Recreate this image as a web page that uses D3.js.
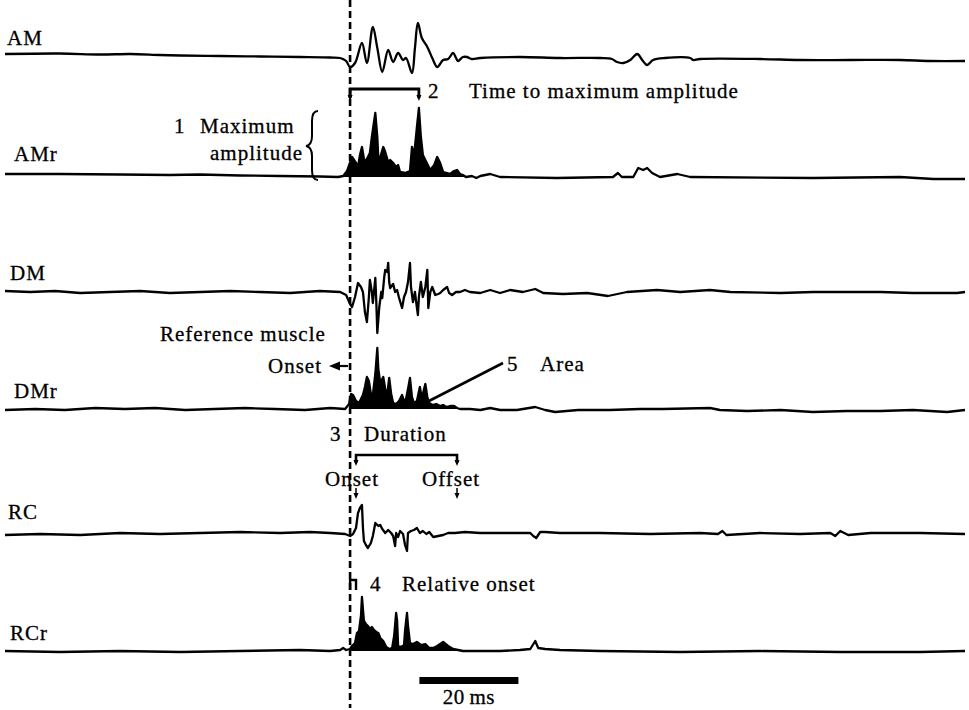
<!DOCTYPE html>
<html>
<head>
<meta charset="utf-8">
<script src="https://cdn.jsdelivr.net/npm/d3@7"></script>
<style>
  body { margin: 0; background: #fff; }
  svg { display: block; }
  text { font-family: "Liberation Serif", "Times New Roman", serif; font-size: 21px; letter-spacing: 1px; fill: #000; stroke: #000; stroke-width: 0.3px; }
</style>
</head>
<body>
<div id="chart"></div>
<script>
// Traces, [time in ms from reference onset, amplitude]
const traceNames = ['AM', 'AMr', 'DM', 'DMr', 'RC', 'RCr'];

const amSamples = [
  [-69.7, 4], [-58.6, 4.5], [-50.5, 3.5], [-44.4, 4], [-38.4, 3], [-34.3, 2.5], [-26.3, 2], [-18.2, 1.5],
  [-10.1, 1], [-4.0, 0.5], [-2.0, 0], [-0.8, -3], [0, -9], [1.0, -5], [2.4, 15], [3.4, -5], [4.6, 31],
  [5.5, 10], [6.5, -14], [7.7, 8], [8.7, -4], [9.7, 5], [10.7, -2], [11.3, 0], [12.5, -15], [13.1, 10],
  [13.7, 35], [14.5, 20], [15.6, 11], [16.6, 0], [17.6, -9], [18.8, -2], [19.8, -1], [20.8, 5], [21.4, 0],
  [21.8, -3], [22.8, 1], [23.6, 1], [24.6, -1], [26.3, 0], [34.3, 1], [42.4, 0], [50.5, 0], [52.9, -1],
  [53.9, -4], [55.2, -5], [56.6, -2], [58.0, 4], [59.0, -2], [60.0, -7], [61.2, -2], [63.6, 0], [68.7, 0],
  [69.3, -2], [70.7, -1], [82.8, -1], [90.9, -2], [101.0, -2], [111.1, -2], [117.2, -3], [124.2, -3]
];

const amrSamples = [
  [-69.7, 3], [-58.6, 3], [-46.5, 2.5], [-36.4, 2], [-30.3, 2.5], [-22.2, 1.5], [-14.1, 1], [-6.1, 0.5],
  [-2.4, 0], [-1.4, 1], [-0.6, 6], [0.4, 20], [1.2, 14], [1.6, 10], [2.0, 22], [2.4, 30], [2.8, 18],
  [3.0, 15], [3.6, 20], [4.0, 24], [4.4, 40], [5.1, 64], [5.5, 40], [5.7, 19], [6.1, 20], [6.7, 30],
  [7.1, 25], [7.7, 15], [8.1, 17], [8.7, 14], [9.3, 10], [9.7, 12], [10.1, 5], [11.1, 4], [12.1, 6],
  [12.5, 30], [12.9, 22], [13.1, 30], [13.5, 50], [13.9, 69], [14.3, 40], [14.7, 22], [15.4, 15],
  [16.2, 7], [17.0, 12], [17.6, 20], [18.2, 14], [18.8, 5], [19.6, 4], [20.2, 3], [21.0, 6], [21.6, 7],
  [22.2, 3], [22.8, 2], [23.4, 0], [24.6, 1], [25.5, -1], [26.3, 1], [28.3, 3], [30.3, 0], [41.8, -1],
  [53.1, 0], [54.1, 4], [54.9, 0], [57.2, 0], [58.2, 9], [59.2, 7], [60.0, 9], [61.0, 4], [62.6, 0],
  [66.1, 3], [68.7, 0], [93.5, -1], [111.1, 0], [117.8, -2], [124.2, -2]
];

const dmSamples = [
  [-69.7, 1], [-64.6, 0], [-59.6, 1], [-54.5, -1], [-48.5, 0], [-42.4, 1], [-36.4, -1], [-30.3, 0],
  [-24.2, 1], [-18.2, 0], [-12.1, -1], [-6.1, 1], [-2.0, 0], [-0.8, -3], [0, -12], [0.4, -15], [1.0, -5],
  [1.6, 9], [2.2, 5], [2.6, 0], [3.0, -20], [3.4, -30], [3.8, -5], [4.0, 12], [4.4, 0], [4.6, -11],
  [5.1, 14], [5.3, -10], [5.5, -41], [5.9, -15], [6.3, 0], [6.5, -6], [6.9, 15], [7.1, 22], [7.5, 20],
  [7.7, 29], [7.9, 10], [8.1, 4], [8.7, 8], [9.1, 0], [9.5, 2], [9.9, -6], [10.5, -16], [10.9, -5],
  [11.3, 0], [11.7, 10], [12.1, 29], [12.3, 5], [12.7, -10], [13.1, 0], [13.3, -8], [13.7, -23],
  [13.9, -5], [14.3, 10], [14.7, -5], [15.2, 5], [15.6, 22], [15.8, -16], [16.2, 0], [16.6, 5],
  [17.2, -3], [17.8, -2], [18.2, -1], [18.8, 2], [19.6, 5], [20.0, -1], [20.6, -3], [21.4, 0], [22.2, 0],
  [23.2, 2], [24.2, 0], [26.3, -1], [28.3, 2], [30.3, -1], [32.3, 2], [34.9, 0], [37.4, 3], [39.0, -1],
  [43.0, -2], [47.9, -1], [52.1, -4], [55.9, 0], [62.0, 2], [66.7, 0], [72.7, 2], [76.8, 0], [86.9, -1],
  [93.5, 0], [100.4, 0], [107.1, 0], [113.7, -1], [122.6, -1], [124.2, 0]
];

const dmrSamples = [
  [-69.7, -1], [-63.6, 0], [-57.6, -1], [-51.5, 1], [-45.5, 0], [-39.4, 1], [-33.3, -1], [-27.3, 0],
  [-21.2, 1], [-15.2, 0], [-9.1, -1], [-4.0, 1], [-1.0, 0], [-0.2, 5], [0.2, 15], [0.6, 14], [1.2, 8],
  [1.8, 6], [2.2, 10], [2.6, 14], [3.0, 22], [3.4, 32], [3.8, 28], [4.2, 15], [4.6, 14], [5.1, 35],
  [5.5, 61], [5.7, 40], [6.1, 26], [6.5, 30], [6.7, 32], [7.1, 20], [7.5, 14], [7.9, 31], [8.3, 15],
  [8.7, 6], [9.3, 5], [9.9, 8], [10.5, 14], [10.9, 8], [11.3, 10], [11.7, 20], [12.1, 31], [12.5, 12],
  [12.9, 6], [13.5, 8], [14.1, 22], [14.5, 10], [14.7, 15], [15.2, 25], [15.6, 12], [16.0, 6],
  [16.6, 4], [17.4, 5], [18.2, 3], [18.8, 4], [19.4, 2], [20.2, 3], [21.0, 3], [21.6, 1], [22.2, 0],
  [24.2, 0], [26.3, -1], [28.3, 1], [30.3, -1], [33.7, -1], [37.4, 2], [39.4, -1], [41.4, -3], [46.1, -1],
  [52.5, -1], [58.6, 0], [63.2, 0], [72.7, 1], [74.7, -1], [80.2, -2], [86.9, -1], [93.5, -3],
  [100.4, -2], [107.1, -2], [113.7, -1], [120.6, -3], [124.2, -1]
];

const rcSamples = [
  [-69.7, -2], [-62.6, -1], [-54.5, -2], [-46.5, 0], [-38.4, -1], [-30.3, 0], [-22.2, 1], [-14.1, 0],
  [-8.1, 1], [-4.0, 0], [-1.0, -1], [0, -3], [0.6, -1], [1.2, 5], [1.6, 20], [2.0, 25], [2.4, 28],
  [2.6, 5], [2.8, -8], [3.2, -12], [3.6, -15], [4.2, -10], [4.6, -3], [5.1, 10], [5.7, 7], [6.1, 8],
  [6.5, 4], [7.1, 0], [7.7, 3], [8.3, 0], [8.7, -3], [9.1, -13], [9.3, 0], [9.7, -4], [10.1, 2],
  [10.7, -1], [11.1, -12], [11.5, -18], [11.7, 0], [12.3, 2], [12.9, 3], [13.5, 5], [14.1, 0], [14.7, 2],
  [15.4, -1], [16.0, 1], [16.8, -4], [17.8, -3], [18.8, -2], [19.8, 0], [21.2, 0], [23.2, 1], [26.3, 0],
  [30.3, 0], [36.4, 0], [37.0, -3], [37.6, -5], [38.4, 1], [39.4, 1], [42.4, 0], [50.5, 0], [60.6, -1],
  [70.7, 0], [74.3, -1], [75.2, 2], [76.0, -2], [82.8, 0], [90.9, -1], [97.0, 0], [98.0, -3], [99.0, 2],
  [100.6, -2], [105.1, 0], [115.2, 0], [124.2, -1]
];

const rcrSamples = [
  [-69.7, 0], [-58.6, -1], [-46.5, 0], [-34.3, -1], [-22.2, 0], [-10.1, 1], [-4.0, 0], [-2.0, 1],
  [-1.4, 3], [-0.8, 1], [0, 2], [0.4, 5], [1.0, 8], [1.4, 18], [1.8, 20], [2.2, 35], [2.4, 54], [2.8, 30],
  [3.2, 27], [3.6, 25], [4.0, 22], [4.4, 24], [4.8, 21], [5.3, 19], [5.7, 18], [6.1, 13], [6.7, 10],
  [7.3, 4], [7.9, 2], [8.5, 3], [8.9, 15], [9.3, 38], [9.5, 30], [9.7, 5], [10.3, 4], [10.9, 6],
  [11.1, 20], [11.5, 38], [11.7, 25], [12.1, 8], [12.7, 7], [13.5, 9], [14.3, 6], [15.2, 7], [16.0, 3],
  [16.8, 3], [17.6, 5], [18.8, 9], [19.8, 5], [20.8, 2], [21.8, 1], [22.8, 0], [26.3, 0], [30.3, 0],
  [34.3, 1], [36.4, 2], [37.4, 10], [38.0, 3], [39.4, 2], [42.4, 1], [50.5, 0], [66.7, -1], [82.8, 0],
  [99.0, -1], [115.2, -1], [124.2, 0]
];

// Filled (rectified) bursts, ms
const amrBurst = [-1.4, 23.4];
const dmrBurst = [-0.2, 22.2];
const rcrBurst = [0, 22.8];

// Measured events, ms
const rcOnset = 1.2;
const rcOffset = 21.6;
const scaleBarMs = [14, 34];

const width = 969, height = 710;

const svg = d3.select('#chart').append('svg')
  .attr('width', width)
  .attr('height', height);

svg.append('rect').attr('width', width).attr('height', height).attr('fill', '#fff');

const x = d3.scaleLinear().domain([-70, 124.2]).range([3.5, 965]);
const amp = d3.scaleLinear().domain([0, 10]).range([0, -10]);

// baseline row of each trace
const rowY = { AM: 58, AMr: 177, DM: 292, DMr: 409, RC: 533, RCr: 651 };

const traces = [
  { name: 'AM', data: amSamples, burst: null, smooth: true, label: [7, 45] },
  { name: 'AMr', data: amrSamples, burst: amrBurst, label: [14, 161] },
  { name: 'DM', data: dmSamples, burst: null, label: [10, 280] },
  { name: 'DMr', data: dmrSamples, burst: dmrBurst, label: [14, 398] },
  { name: 'RC', data: rcSamples, burst: null, label: [8, 519] },
  { name: 'RCr', data: rcrSamples, burst: rcrBurst, label: [10, 640] }
];

const g = svg.append('g');

traces.forEach(tr => {
  const base = rowY[tr.name];

  if (tr.burst) {
    const area = d3.area()
      .defined(d => d[0] >= tr.burst[0] && d[0] <= tr.burst[1])
      .x(d => x(d[0]))
      .y0(base)
      .y1(d => base + amp(Math.max(0, d[1])));
    g.append('path')
      .datum(tr.data)
      .attr('d', area)
      .attr('fill', '#000');
  }

  const line = d3.line()
    .curve(tr.smooth ? d3.curveCatmullRom.alpha(0.5) : d3.curveLinear)
    .x(d => x(d[0]))
    .y(d => base + amp(d[1]));
  g.append('path')
    .datum(tr.data)
    .attr('d', line)
    .attr('fill', 'none')
    .attr('stroke', '#000')
    .attr('stroke-width', 2.3)
    .attr('stroke-linejoin', 'round');

  g.append('text')
    .attr('x', tr.label[0])
    .attr('y', tr.label[1])
    .text(tr.name);
});

// onset of reference muscle
svg.append('line')
  .attr('x1', x(0)).attr('x2', x(0))
  .attr('y1', 0).attr('y2', 708)
  .attr('stroke', '#000')
  .attr('stroke-width', 2.6)
  .attr('stroke-dasharray', '7,4');

function arrowDown(px, py) {
  svg.append('path')
    .attr('d', `M${px - 2.5},${py - 6} L${px + 2.5},${py - 6} L${px},${py} Z`)
    .attr('fill', '#000');
}

function stroke(d, w) {
  return svg.append('path')
    .attr('d', d)
    .attr('fill', 'none')
    .attr('stroke', '#000')
    .attr('stroke-width', w || 2);
}

// 2: time to maximum amplitude
const peak = amrSamples.reduce((a, b) => (b[1] > a[1] ? b : a));
const bx0 = x(0), bx1 = x(peak[0]);
stroke(`M${bx0},98 V89 H${bx1} V98`, 2.8);
arrowDown(bx0, 101);
arrowDown(bx1, 101);
svg.append('text').attr('x', 428).attr('y', 98).text('2');
svg.append('text').attr('x', 469).attr('y', 98).text('Time to maximum amplitude');

// 1: maximum amplitude
svg.append('text').attr('x', 174).attr('y', 133).text('1');
svg.append('text').attr('x', 200).attr('y', 133).text('Maximum');
svg.append('text').attr('x', 303).attr('y', 160).attr('text-anchor', 'end').text('amplitude');
stroke('M318,111 Q312,111 312,121 L312,136 Q312,145 306,146 Q312,147 312,156 L312,170 Q312,180 318,180', 2);

// reference muscle onset
svg.append('text').attr('x', 160).attr('y', 341).text('Reference muscle');
svg.append('text').attr('x', 268).attr('y', 373).text('Onset');
stroke(`M337,366 H${x(0) - 2}`, 2.2);
svg.append('path')
  .attr('d', 'M329,366 L340,361.5 L340,370.5 Z')
  .attr('fill', '#000');

// 5: area
stroke('M427,402 L503,363', 2.6);
svg.append('text').attr('x', 507).attr('y', 371).text('5');
svg.append('text').attr('x', 540).attr('y', 371).text('Area');

// 3: duration
svg.append('text').attr('x', 330).attr('y', 441).text('3');
svg.append('text').attr('x', 364).attr('y', 441).text('Duration');
const dx0 = x(rcOnset), dx1 = x(rcOffset);
stroke(`M${dx0},463 V455 H${dx1} V463`, 2.6);
arrowDown(dx0, 466);
arrowDown(dx1, 466);
svg.append('text').attr('x', 325).attr('y', 486).text('Onset');
svg.append('text').attr('x', 422).attr('y', 486).text('Offset');
stroke(`M${dx0},488 V495`, 1.5);
arrowDown(dx0, 499);
stroke(`M${dx1},488 V495`, 1.5);
arrowDown(dx1, 499);

// 4: relative onset
stroke(`M${x(0)},590 V580 H${x(rcOnset)} V590`, 2.4);
svg.append('text').attr('x', 370).attr('y', 591).text('4');
svg.append('text').attr('x', 402).attr('y', 591).text('Relative onset');

// scale bar
svg.append('rect')
  .attr('x', x(scaleBarMs[0]))
  .attr('y', 677)
  .attr('width', x(scaleBarMs[1]) - x(scaleBarMs[0]))
  .attr('height', 7)
  .attr('fill', '#000');
svg.append('text')
  .attr('x', x((scaleBarMs[0] + scaleBarMs[1]) / 2))
  .attr('y', 704)
  .attr('text-anchor', 'middle')
  .style('letter-spacing', '0.5px')
  .text('20\u2009ms');
</script>
</body>
</html>
